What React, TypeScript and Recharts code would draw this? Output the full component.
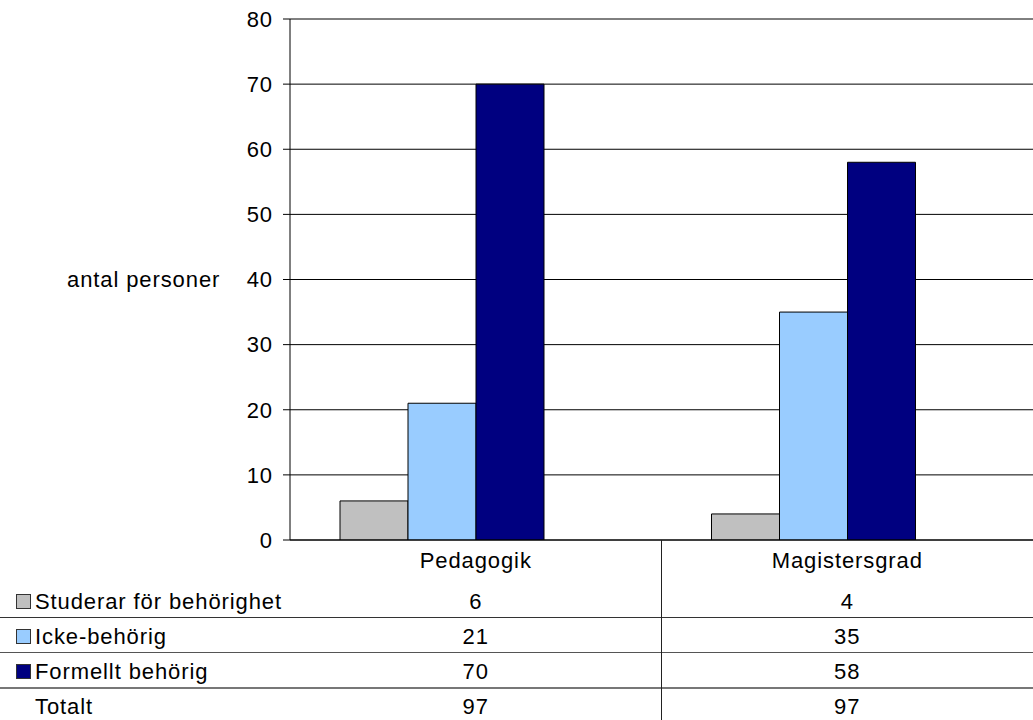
import { BarChart, Bar, XAxis, YAxis, CartesianGrid } from 'recharts';

// values
const categories = ['Pedagogik', 'Magistersgrad'];
const studerar = [6, 4];
const ickeBehorig = [21, 35];
const formellt = [70, 58];
const totalt = [97, 97];
const yTicks = [0, 10, 20, 30, 40, 50, 60, 70, 80];

const series = [
  { key: 'studerar', name: 'Studerar för behörighet', values: studerar, color: '#C0C0C0' },
  { key: 'icke', name: 'Icke-behörig', values: ickeBehorig, color: '#99CCFF' },
  { key: 'formellt', name: 'Formellt behörig', values: formellt, color: '#000080' },
  // Totalt is a series without fill in the original, it only shows in the table
  { key: 'totalt', name: 'Totalt', values: totalt, color: null as string | null },
];

const data = categories.map((cat, i) => {
  const row: Record<string, string | number> = { category: cat };
  series.forEach(s => {
    row[s.key] = s.values[i];
  });
  return row;
});

const W = 1033;
const H = 720;
const FONT = '"Liberation Sans", Arial, Helvetica, sans-serif';
const LS = '0.9px';
const PLOT_LEFT = 290;
const PLOT_RIGHT = W;
const CAT_W = (PLOT_RIGHT - PLOT_LEFT) / categories.length;

const textProps = { fill: '#000', fontSize: 22, fontFamily: FONT, letterSpacing: LS };

export default function App() {
  return (
    <div style={{ position: 'absolute', left: 0, top: 0, width: W, height: H, background: '#fff', fontFamily: FONT, letterSpacing: LS }}>
      <BarChart
        width={W}
        height={H}
        data={data}
        margin={{ top: 19, right: 0, left: 67, bottom: 150 }}
        barCategoryGap={50}
        barGap={0}
      >
        <CartesianGrid vertical={false} stroke="#000" strokeWidth={1} />
        <XAxis
          dataKey="category"
          height={30}
          axisLine={{ stroke: '#000' }}
          tickLine={false}
          tickSize={0}
          tickMargin={12}
          tick={textProps}
        />
        <YAxis
          width={223}
          domain={[0, 80]}
          ticks={yTicks}
          allowDataOverflow
          interval={0}
          axisLine={{ stroke: '#000' }}
          tickLine={{ stroke: '#000' }}
          tickSize={7}
          tickMargin={10}
          tick={textProps}
          label={{ value: 'antal personer', position: 'insideLeft', offset: 0, ...textProps }}
        />
        {series.map(s => (
          <Bar
            key={s.key}
            dataKey={s.key}
            name={s.name}
            fill={s.color ?? 'transparent'}
            stroke={s.color ? '#000' : 'none'}
            strokeWidth={1}
            isAnimationActive={false}
          />
        ))}
      </BarChart>

      {/* data table under the axis */}
      <div style={{ position: 'absolute', left: 0, top: 617, width: W, height: 1, background: '#333' }} />
      <div style={{ position: 'absolute', left: 0, top: 652, width: W, height: 1, background: '#555' }} />
      <div style={{ position: 'absolute', left: 0, top: 687, width: W, height: 2, background: '#777' }} />
      <div style={{ position: 'absolute', left: PLOT_LEFT + CAT_W - 1, top: 540, width: 1.5, height: H - 540, background: '#222' }} />

      {series.map((s, r) => (
        <div key={s.key} style={{ position: 'absolute', left: 0, top: 584 + r * 35, width: W, height: 35 }}>
          {s.color && (
            <div
              style={{
                position: 'absolute',
                left: 16,
                top: 10,
                width: 13,
                height: 13,
                background: s.color,
                border: '1px solid #333',
              }}
            />
          )}
          <div style={{ position: 'absolute', left: 35, top: 0, lineHeight: '35px', fontSize: 22, color: '#000', whiteSpace: 'nowrap' }}>
            {s.name}
          </div>
          {s.values.map((v, i) => (
            <div
              key={i}
              style={{
                position: 'absolute',
                left: PLOT_LEFT + CAT_W * i,
                width: CAT_W,
                top: 0,
                lineHeight: '35px',
                fontSize: 22,
                textAlign: 'center',
                color: '#000',
              }}
            >
              {v}
            </div>
          ))}
        </div>
      ))}
    </div>
  );
}
